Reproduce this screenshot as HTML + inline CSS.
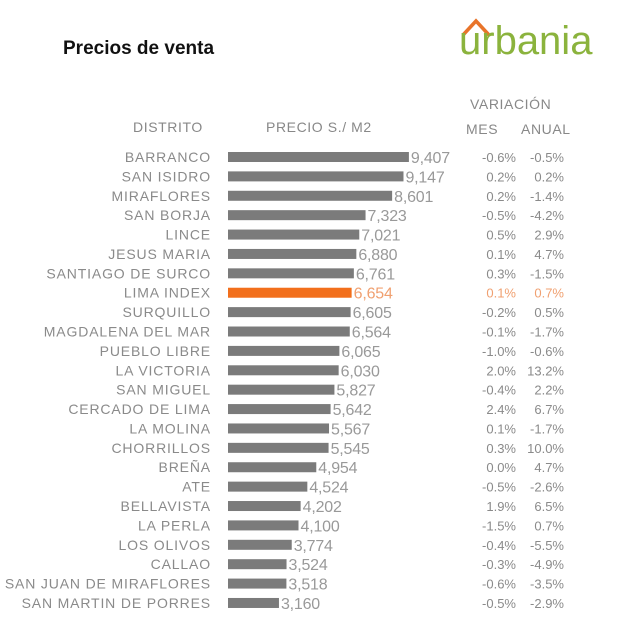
<!DOCTYPE html>
<html><head><meta charset="utf-8"><style>
body{margin:0;background:#fff;width:620px;height:630px;overflow:hidden;font-family:"Liberation Sans",sans-serif}
</style></head><body>
<svg id="chart" width="620" height="630" xmlns="http://www.w3.org/2000/svg">
<text x="63" y="54" font-size="19" font-weight="bold" fill="#111">Precios de venta</text>
<g>
<path d="M463 35 L476 21 L489 35" stroke="#e8742a" stroke-width="3.5" fill="none"/>
<text x="459" y="54" font-size="40" fill="#8bb33d" font-family="Liberation Sans,sans-serif">urbania</text>
</g>
<text x="470" y="109" font-size="14" fill="#888" letter-spacing="0.6">VARIACIÓN</text>
<text x="133" y="132" font-size="14" fill="#888" letter-spacing="0.6">DISTRITO</text>
<text x="266" y="132" font-size="14" fill="#888" letter-spacing="0.6">PRECIO S./ M2</text>
<text x="466" y="134" font-size="14" fill="#888" letter-spacing="0.6">MES</text>
<text x="521" y="134" font-size="14" fill="#888" letter-spacing="0.6">ANUAL</text>
<g id="rows"></g>
</svg>
<script>
const districts=["BARRANCO","SAN ISIDRO","MIRAFLORES","SAN BORJA","LINCE","JESUS MARIA","SANTIAGO DE SURCO","LIMA INDEX","SURQUILLO","MAGDALENA DEL MAR","PUEBLO LIBRE","LA VICTORIA","SAN MIGUEL","CERCADO DE LIMA","LA MOLINA","CHORRILLOS","BREÑA","ATE","BELLAVISTA","LA PERLA","LOS OLIVOS","CALLAO","SAN JUAN DE MIRAFLORES","SAN MARTIN DE PORRES"];
const prices=[9407,9147,8601,7323,7021,6880,6761,6654,6605,6564,6065,6030,5827,5642,5567,5545,4954,4524,4202,4100,3774,3524,3518,3160];
const mes=[-0.6,0.2,0.2,-0.5,0.5,0.1,0.3,0.1,-0.2,-0.1,-1.0,2.0,-0.4,2.4,0.1,0.3,0.0,-0.5,1.9,-1.5,-0.4,-0.3,-0.6,-0.5];
const anual=[-0.5,0.2,-1.4,-4.2,2.9,4.7,-1.5,0.7,0.5,-1.7,-0.6,13.2,2.2,6.7,-1.7,10.0,4.7,-2.6,6.5,0.7,-5.5,-4.9,-3.5,-2.9];
const highlight="LIMA INDEX";
const NS="http://www.w3.org/2000/svg";
const g=document.getElementById('rows');
const x0=228,vmin=710,k=0.0208,y0=157,step=19.39;
function xs(v){return (v-vmin)*k;}
function ys(i){return y0+i*step;}
function t(x,y,s,anchor,fill,size){const e=document.createElementNS(NS,'text');e.setAttribute('x',x);e.setAttribute('y',y);e.setAttribute('text-anchor',anchor);e.setAttribute('fill',fill);e.setAttribute('font-size',size);e.textContent=s;g.appendChild(e);return e;}
districts.forEach((d,i)=>{
 const y=ys(i),hl=d===highlight;
 const col=hl?"#f26f1c":"#7b7b7b",tc=hl?"#f0a070":"#8a8a8a";
 let e=t(211,y+5,d,'end','#8a8a8a',14);
 
 
 e.setAttribute('letter-spacing','0.85');
 const r=document.createElementNS(NS,'rect');
 r.setAttribute('x',x0);r.setAttribute('y',y-5);r.setAttribute('width',xs(prices[i]));r.setAttribute('height',10);r.setAttribute('fill',col);
 
 
 g.appendChild(r);
 e=t(x0+xs(prices[i])+2,y+6,prices[i].toLocaleString('en-US'),'start',hl?tc:'#999',16);
 
 
 e.setAttribute('letter-spacing','-0.2');
 e=t(516,y+5,mes[i].toFixed(1)+'%','end',tc,13);
 
 
 e=t(564,y+5,anual[i].toFixed(1)+'%','end',tc,13);
 
 
});
</script>
</body></html>
